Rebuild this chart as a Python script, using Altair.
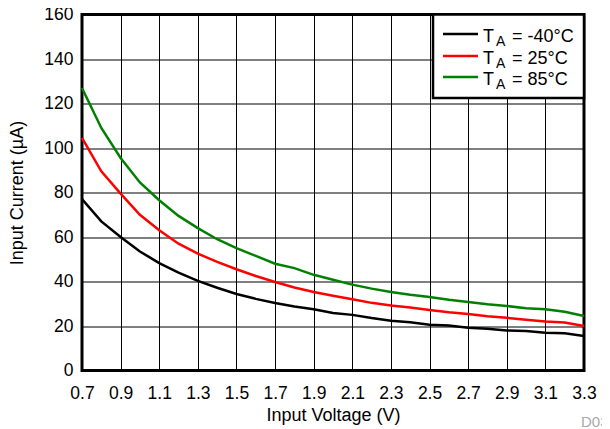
import altair as alt
import pandas as pd

# ---- data ----
voltage = [0.7, 0.8, 0.9, 1.0, 1.1, 1.2, 1.3, 1.4, 1.5, 1.6, 1.7, 1.8, 1.9, 2.0,
           2.1, 2.2, 2.3, 2.4, 2.5, 2.6, 2.7, 2.8, 2.9, 3.0, 3.1, 3.2, 3.3]
current_m40 = [77, 67, 60, 53.5, 48.3, 44, 40.3, 37.2, 34.4, 32.2, 30.3, 28.8, 27.5, 25.8,
               25, 23.6, 22.4, 21.7, 20.6, 20.2, 19.2, 18.8, 18, 17.7, 17, 16.7, 15.5]
current_25 = [104.5, 89.5, 79.5, 70, 63, 57, 52.5, 48.8, 45.5, 42.5, 39.8, 37.3, 35.3, 33.6,
              32, 30.4, 29.2, 28.3, 27.2, 26.2, 25.4, 24.4, 23.7, 22.8, 22, 21.6, 20]
current_85 = [127, 109, 95.5, 84.5, 76.5, 69.5, 64, 59, 55, 51.5, 48, 46, 43, 40.8,
              38.6, 36.8, 35.3, 34, 33, 31.8, 30.8, 29.8, 29, 28, 27.5, 26.4, 24.5]

series_names = ["-40°C", "25°C", "85°C"]
series_colors = ["#000000", "#ff0000", "#008000"]
x_ticks = [0.7, 0.9, 1.1, 1.3, 1.5, 1.7, 1.9, 2.1, 2.3, 2.5, 2.7, 2.9, 3.1, 3.3]
y_ticks = [0, 20, 40, 60, 80, 100, 120, 140, 160]

rows = []
for name, vals in zip(series_names, [current_m40, current_25, current_85]):
    for v, c in zip(voltage, vals):
        rows.append({"V": v, "I": c, "T": name})
df = pd.DataFrame(rows)

W, H = 502, 356
FONT = "Liberation Sans, Arial, sans-serif"
TICK_FS = 17.5
TITLE_FS = 18

lines = alt.Chart(df).mark_line(strokeWidth=2.5).encode(
    x=alt.X("V:Q",
            scale=alt.Scale(domain=[0.7, 3.3], nice=False, zero=False),
            axis=alt.Axis(values=x_ticks, format=".1f", title="Input Voltage (V)",
                          grid=True, gridColor="black", gridWidth=1, gridOpacity=1,
                          domain=False, ticks=False, labelFontSize=TICK_FS, labelFont=FONT,
                          labelColor="black", labelBaseline="alphabetic", labelPadding=28,
                          labelFlush=False,
                          titleFontSize=TITLE_FS, titleFont=FONT, titleFontWeight="normal",
                          titleColor="black", titleX=W / 2, titleY=50,
                          titleBaseline="alphabetic", titleAlign="center")),
    y=alt.Y("I:Q",
            scale=alt.Scale(domain=[0, 160], nice=False),
            axis=alt.Axis(values=y_ticks, title="Input Current (µA)",
                          grid=True, gridColor="black", gridWidth=1, gridOpacity=1,
                          domain=False, ticks=False, labelFontSize=TICK_FS, labelFont=FONT,
                          labelColor="black", labelPadding=9, labelFlush=False,
                          titleFontSize=TITLE_FS, titleFont=FONT, titleFontWeight="normal",
                          titleColor="black", titleX=-65, titleY=H / 2, titleAngle=270,
                          titleAlign="center", titleBaseline="middle")),
    color=alt.Color("T:N", scale=alt.Scale(domain=series_names, range=series_colors),
                    legend=None),
    order=alt.Order("V:Q"),
)

one = pd.DataFrame({"a": [0]})

layers = [lines]

# legend box
layers.append(
    alt.Chart(one).mark_rect(fill="white", stroke="black", strokeWidth=2.5).encode(
        x=alt.value(351), x2=alt.value(W), y=alt.value(0), y2=alt.value(83.5)
    )
)

row_y = [19.5, 41.5, 62.5]
for name, col, ly in zip(series_names, series_colors, row_y):
    layers.append(
        alt.Chart(one).mark_rule(color=col, strokeWidth=2.5).encode(
            x=alt.value(361), x2=alt.value(396), y=alt.value(ly)
        )
    )
    base_y = ly + 8
    layers.append(
        alt.Chart(one).mark_text(text="T", align="left", baseline="alphabetic",
                                 fontSize=18, font=FONT, color="black").encode(
            x=alt.value(401), y=alt.value(base_y)
        )
    )
    layers.append(
        alt.Chart(one).mark_text(text="A", align="left", baseline="alphabetic",
                                 fontSize=14, font=FONT, color="black").encode(
            x=alt.value(414), y=alt.value(base_y + 3.5)
        )
    )
    layers.append(
        alt.Chart(one).mark_text(text="= " + name, align="left", baseline="alphabetic",
                                 fontSize=18, font=FONT, color="black").encode(
            x=alt.value(430), y=alt.value(base_y)
        )
    )

layers.append(
    alt.Chart(one).mark_text(text="D032", align="left", baseline="alphabetic",
                             fontSize=15, font=FONT, color="#a8a8a8").encode(
        x=alt.value(499), y=alt.value(412)
    )
)

chart = alt.layer(*layers).properties(
    width=W, height=H,
    autosize=alt.AutoSizeParams(type="none"),
    padding={"left": 74, "top": 6.5, "right": 18, "bottom": 58.5},
).configure_view(stroke="black", strokeWidth=3)

chart.save("out.html", embed_options={"renderer": "svg", "actions": False})
